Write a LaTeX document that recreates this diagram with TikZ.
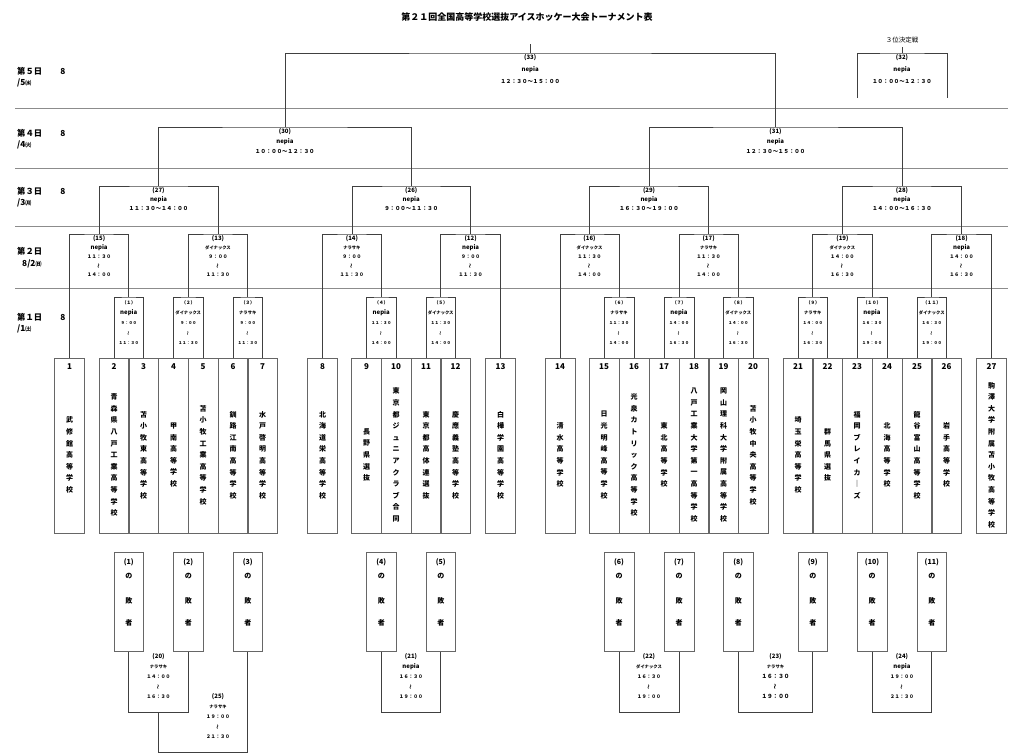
\documentclass[tikz,border=0pt]{standalone}
\usepackage{fontspec}
\setmainfont{Noto Sans CJK JP}
\usepackage{graphicx}
\usetikzlibrary{calc,positioning}

% vertical school names: one character per line
\makeatletter
\def\vname#1{\vbox{\baselineskip=11.6pt\lineskiplimit=-20pt\vn@me#1\vn@end}}
\def\vn@me#1#2\vn@end{\hbox to 0pt{\hss#1\hss}\ifx\relax#2\relax\expandafter\@gobble\else\expandafter\@firstofone\fi{\vn@me#2\vn@end}}
\makeatother
\newcommand\wv{\rotatebox[origin=c]{90}{〜}}
\newcommand\nep{{\fontsize{6}{10}\selectfont nepia}}
\newcommand\dyn{{\fontsize{4.3}{10}\selectfont ダイナックス}}
\newcommand\nar{{\fontsize{4.3}{10}\selectfont ナラサキ}}

\begin{document}
\begin{tikzpicture}[x=1pt, y=-1pt,
  sep/.style={black!45, line width=0.6pt},
  bracket/.style={black!75, line width=0.7pt},
  teambox/.style={draw=black!60, line width=0.6pt, minimum width=29.7pt, minimum height=175pt, inner sep=0pt, anchor=north},
  loserbox/.style={draw=black!60, line width=0.6pt, minimum width=29.7pt, minimum height=99pt, inner sep=0pt, anchor=north},
  daylab/.style={inner sep=0pt, font=\bfseries\fontsize{8.3}{10}\selectfont},
  r1lab/.style={align=center, inner sep=0pt, font=\bfseries\fontsize{4}{10}\selectfont},
  r2lab/.style={align=center, inner sep=0pt, font=\bfseries\fontsize{4.8}{9}\selectfont},
  blab/.style={align=center, inner sep=0pt, anchor=north},
  loserlab/.style={align=center, inner sep=0pt, anchor=north, font=\bfseries\fontsize{7}{14}\selectfont}]
  \useasboundingbox (0,0) rectangle (1024,755);

  % title
  \node (title) [font=\bfseries\fontsize{9}{9}\selectfont] at (527,17) {第２１回全国高等学校選抜アイスホッケー大会トーナメント表};

  % day rows
  \foreach \y in {108,168,226,288}
    \draw[sep] (15,\y) -- (1008,\y);
  \foreach \d/\fd/\y/\w in {5/５/71/㈬, 4/４/133/㈫, 3/３/191/㈪, 1/１/317/㈯} {
    \node (day\d) [daylab, anchor=west] at (17,\y) {第\fd 日};
    \node (mon\d) [daylab] at (63,\y) {8};
    \node (date\d) [daylab, anchor=west] at (17,\y+12) {/\d{\fontsize{6}{8}\selectfont\w}};
  }
  \node (day2) [daylab, anchor=west] at (17,251) {第２日};
  \node (date2) [daylab, anchor=west] at (22,264) {8/2{\fontsize{6}{8}\selectfont ㈰}};

  % teams
  \foreach \n/\x/\name in {1/69.5/武修館高等学校, 2/114/青森県八戸工業高等学校,
      3/143.5/苫小牧東高等学校, 4/173.5/甲南高等学校, 5/203/苫小牧工業高等学校,
      6/233/釧路江南高等学校, 7/262.5/水戸啓明高等学校, 8/322.5/北海道栄高等学校,
      9/366.5/長野県選抜, 10/396/東京都ジュニアクラブ合同, 11/426/東京都高体連選抜,
      12/455.5/慶應義塾高等学校, 13/500.5/白樺学園高等学校, 14/560/清水高等学校,
      15/604/日光明峰高等学校, 16/634/光泉カトリック高等学校, 17/664/東北高等学校,
      18/694/八戸工業大学第一高等学校, 19/723.5/岡山理科大学附属高等学校,
      20/753/苫小牧中央高等学校, 21/798/埼玉栄高等学校, 22/827.5/群馬県選抜,
      23/857/福岡ブレイカ｜ズ, 24/887/北海高等学校, 25/917/龍谷富山高等学校,
      26/946.5/岩手高等学校, 27/991.5/駒澤大学附属苫小牧高等学校} {
    \node (t\n) [teambox] at (\x,358) {};
    \node (no\n) [font=\bfseries\fontsize{8}{8}\selectfont] at (\x,367) {\n};
    \node (nm\n) [font=\bfseries\fontsize{7}{8}\selectfont] at (\x,455) {\expandafter\vname\expandafter{\name}};
  }

  % losers of the first round
  \foreach \n/\x in {1/128.75, 2/188.25, 3/247.75, 4/381.25, 5/440.75, 6/619,
      7/679, 8/738.25, 9/812.75, 10/872, 11/931.75} {
    \node (l\n) [loserbox] at (\x,552) {};
    \node (lt\n) [loserlab] at (\x,558) {(\n)\\の\\[11pt]敗\\[8pt]者};
  }

  % match points
  \foreach \m/\x in {1/128.75, 2/188.25, 3/247.75, 4/381.25, 5/440.75, 6/619,
      7/679, 8/738.25, 9/812.75, 10/872, 11/931.75}
    \coordinate (m\m) at (\x,297);
  \foreach \m/\x in {15/99.1, 13/218, 14/351.9, 12/470.6, 16/589.5, 17/708.6, 19/842.4, 18/961.6}
    \coordinate (m\m) at (\x,234);
  \foreach \m/\x in {27/158.55, 26/411.25, 29/649.05, 28/902}
    \coordinate (m\m) at (\x,186);
  \coordinate (m30) at (284.9,127);
  \coordinate (m31) at (775.5,127);
  \coordinate (m33) at (530.2,53);
  \coordinate (m32) at (902,53);
  \coordinate (top33) at (530.2,44);
  \coordinate (p32a) at (857,98);
  \coordinate (p32b) at (947,98);
  \foreach \m/\x/\y in {20/158.5/712, 25/203.1/752, 21/411/712, 22/649/712, 23/775.5/712, 24/902/712}
    \coordinate (m\m) at (\x,\y);

  % brackets
  \foreach \m/\a/\b in {1/t2.north/t3.north, 2/t4.north/t5.north, 3/t6.north/t7.north,
      4/t9.north/t10.north, 5/t11.north/t12.north, 6/t15.north/t16.north,
      7/t17.north/t18.north, 8/t19.north/t20.north, 9/t21.north/t22.north,
      10/t23.north/t24.north, 11/t25.north/t26.north,
      15/t1.north/m1, 13/m2/m3, 14/t8.north/m4, 12/m5/t13.north,
      16/t14.north/m6, 17/m7/m8, 19/m9/m10, 18/m11/t27.north,
      27/m15/m13, 26/m14/m12, 29/m16/m17, 28/m19/m18,
      30/m27/m26, 31/m29/m28, 33/m30/m31}
    \draw[bracket] (\a) |- (m\m) -| (\b);
  \draw[bracket] (m33) -- (top33);
  \draw[bracket] (p32a) |- (m32) -| (p32b);
  \node (third) [font=\fontsize{6.5}{7}\selectfont] at (902,40) {３位決定戦};
  \draw[bracket] (m32) -- (third.south);
  \foreach \m/\a/\b in {20/l1.south/l2.south, 25/m20/l3.south, 21/l4.south/l5.south,
      22/l6.south/l7.south, 23/l8.south/l9.south, 24/l10.south/l11.south}
    \draw[bracket] (\a) |- (m\m) -| (\b);

  % match labels
  \foreach \m/\num/\venue/\s/\e in {1/（１）/\nep/９：００/１１：３０, 2/（２）/\dyn/９：００/１１：３０,
      3/（３）/\nar/９：００/１１：３０, 4/（４）/\nep/１１：３０/１４：００,
      5/（５）/\dyn/１１：３０/１４：００, 6/（６）/\nar/１１：３０/１４：００,
      7/（７）/\nep/１４：００/１６：３０, 8/（８）/\dyn/１４：００/１６：３０,
      9/（９）/\nar/１４：００/１６：３０, 10/（１０）/\nep/１６：３０/１９：００,
      11/（１１）/\dyn/１６：３０/１９：００}
    \node (lab\m) [r1lab, below=3pt of m\m] {{\fontsize{4.5}{10}\selectfont\num}\\\venue\\\s\\\wv\\\e};
  \foreach \m/\num/\venue/\s/\e in {15/(15)/\nep/１１：３０/１４：００, 13/(13)/\dyn/９：００/１１：３０,
      14/(14)/\nar/９：００/１１：３０, 12/(12)/\nep/９：００/１１：３０,
      16/(16)/\dyn/１１：３０/１４：００, 17/(17)/\nar/１１：３０/１４：００,
      19/(19)/\dyn/１４：００/１６：３０, 18/(18)/\nep/１４：００/１６：３０}
    \node (lab\m) [r2lab, below=1pt of m\m] {{\fontsize{6}{9}\selectfont\num}\\\venue\\\s\\\wv\\\e};
  \foreach \m/\num/\t/\p in {27/(27)/１１：３０〜１４：００/9, 26/(26)/９：００〜１１：３０/9,
      29/(29)/１６：３０〜１９：００/9, 28/(28)/１４：００〜１６：３０/9,
      30/(30)/１０：００〜１２：３０/10, 31/(31)/１２：３０〜１５：００/10,
      33/(33)/１２：３０〜１５：００/12, 32/(32)/１０：００〜１２：３０/12}
    \node (lab\m) [align=center, inner sep=0pt, below=1.5pt of m\m, font=\bfseries\fontsize{5.4}{\p}\selectfont]
      {{\fontsize{6}{\p}\selectfont\num}\\\nep\\\t};
  \foreach \m/\x/\y/\num/\venue/\s/\e/\f in {20/158.5/653/(20)/\nar/１４：００/１６：３０/4.8,
      21/411/653/(21)/\nep/１６：３０/１９：００/4.8, 22/649/653/(22)/\dyn/１６：３０/１９：００/4.8,
      23/775.5/653/(23)/\nar/１６：３０/１９：００/5.6, 24/902/653/(24)/\nep/１９：００/２１：３０/4.8,
      25/218/693/(25)/\nar/１９：００/２１：３０/4.8}
    \node (lab\m) [blab, font=\bfseries\fontsize{\f}{10}\selectfont] at (\x,\y)
      {{\fontsize{6}{10}\selectfont\num}\\\venue\\\s\\\wv\\\e};
\end{tikzpicture}
\end{document}
